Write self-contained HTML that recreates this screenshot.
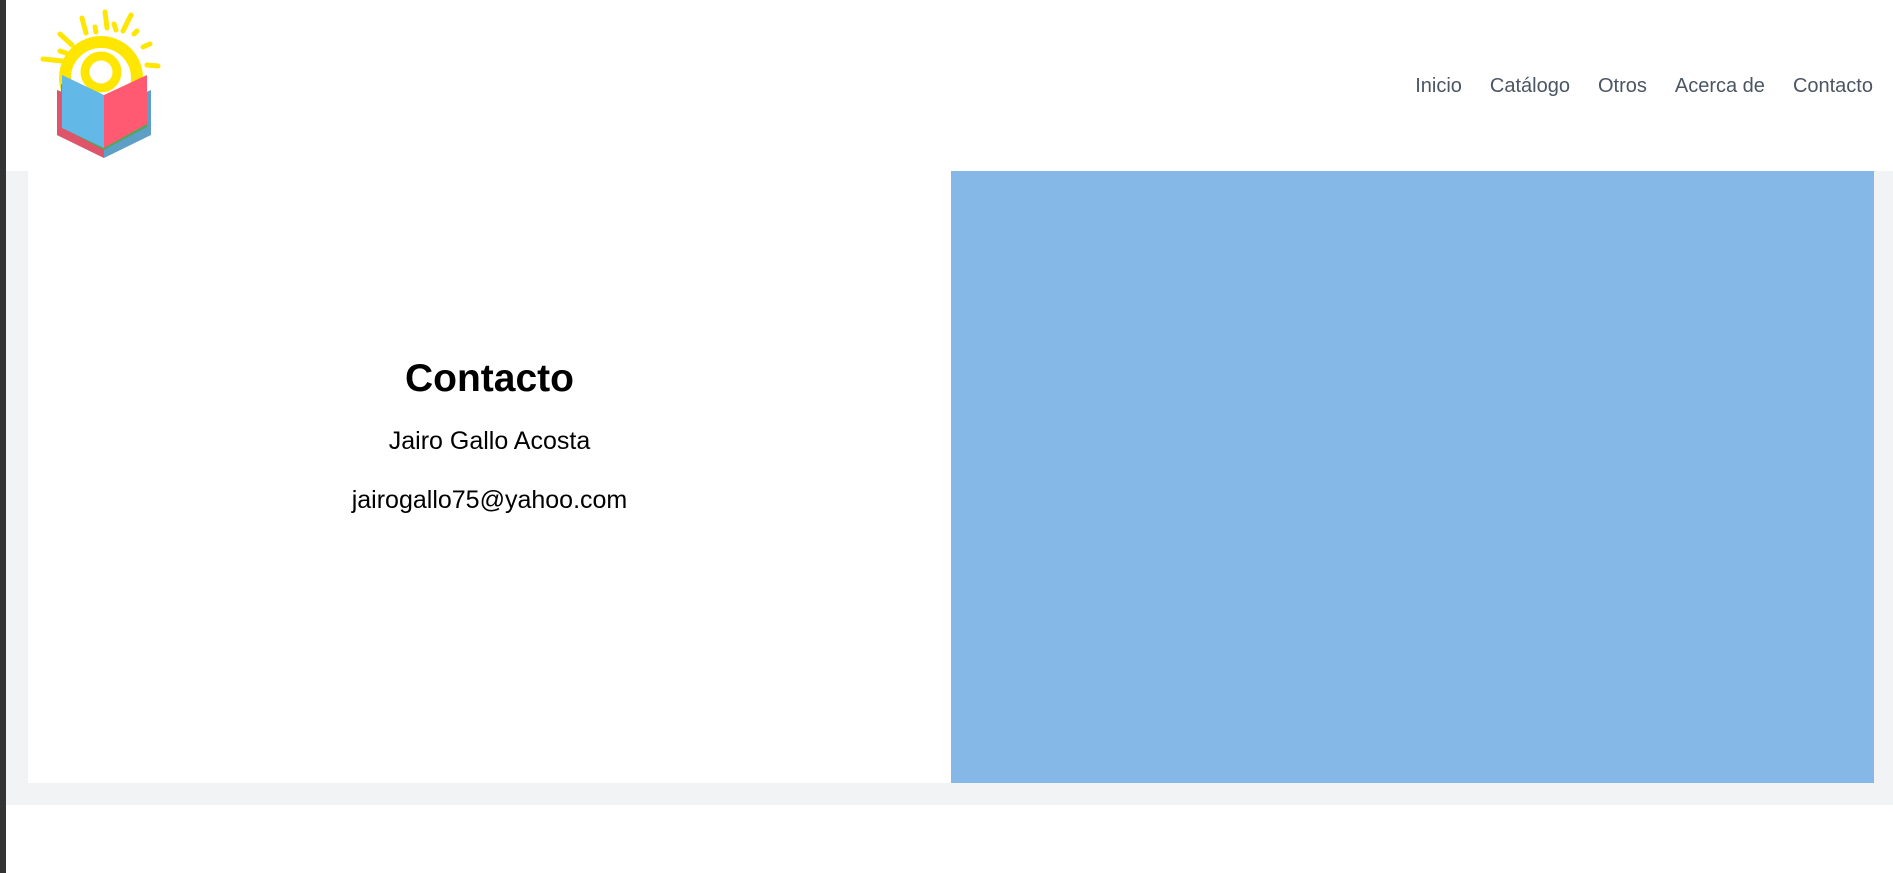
<!DOCTYPE html>
<html><head><meta charset="utf-8"><style>
body{margin:0;width:1893px;height:873px;overflow:hidden;background:#fff;font-family:"Liberation Sans",sans-serif;position:relative}
.frame{position:absolute;left:0;top:0;width:6px;height:873px;background:#333}
.page{position:absolute;left:6px;top:0;right:0;bottom:0;background:#fff;border-top-left-radius:10px}
.nav{position:absolute;top:75px;right:20px;display:flex;gap:28px;font-size:20px;color:#4b5563}
.gray{position:absolute;left:6px;top:171px;width:1887px;height:634px;background:#f2f3f5}
.card{position:absolute;left:28px;top:171px;width:923px;height:612px;background:#fff}
.blue{position:absolute;left:951px;top:171px;width:923px;height:612px;background:#85b8e7}
.t{position:absolute;left:28px;width:923px;text-align:center;color:#000}
</style></head><body>
<div class="frame"></div>
<div class="page"></div>
<svg style="position:absolute;left:0;top:0" width="200" height="190" viewBox="0 0 200 190">
<g stroke="#ffe600" stroke-width="5" stroke-linecap="round">
<line x1="105" y1="12" x2="107" y2="28"/><line x1="82" y1="18" x2="86" y2="33"/><line x1="131" y1="15" x2="123" y2="31"/>
<line x1="60" y1="34" x2="72" y2="45"/><line x1="143" y1="47" x2="150" y2="44"/><line x1="43" y1="59" x2="62" y2="61"/>
<line x1="147" y1="65" x2="158" y2="66"/><line x1="95" y1="27" x2="96" y2="32"/><line x1="114" y1="24" x2="116" y2="30"/>
<line x1="60" y1="51" x2="66" y2="53"/><line x1="134" y1="34" x2="137" y2="31"/>
</g>
<circle cx="101" cy="78" r="36" fill="none" stroke="#ffe600" stroke-width="12"/>
<circle cx="101" cy="72" r="16" fill="none" stroke="#ffe600" stroke-width="9"/>
<polygon points="57,90 104,110 151,90 151,135 104,158 57,135" fill="#5e9fc8"/>
<polygon points="57,90 104,110 104,158 57,135" fill="#df5469"/>
<polygon points="61,84 104,104 147,84 147,127 104,150 61,127" fill="#4da85b"/>
<polygon points="62,75 104,95 104,148 62,128" fill="#62b8e6"/>
<polygon points="104,95 147,75 147,124 104,148" fill="#ff5a72"/>
</svg>
<div class="nav">
<span>Inicio</span>
<span>Catálogo</span>
<span>Otros</span>
<span>Acerca de</span>
<span>Contacto</span>
</div>
<div class="gray"></div>
<div class="card"></div>
<div class="blue"></div>
<div class="t" style="top:357px;font-size:39px;font-weight:bold">Contacto</div>
<div class="t" style="top:427px;font-size:25px">Jairo Gallo Acosta</div>
<div class="t" style="top:486px;font-size:25px">jairogallo75@yahoo.com</div>
</body></html>
